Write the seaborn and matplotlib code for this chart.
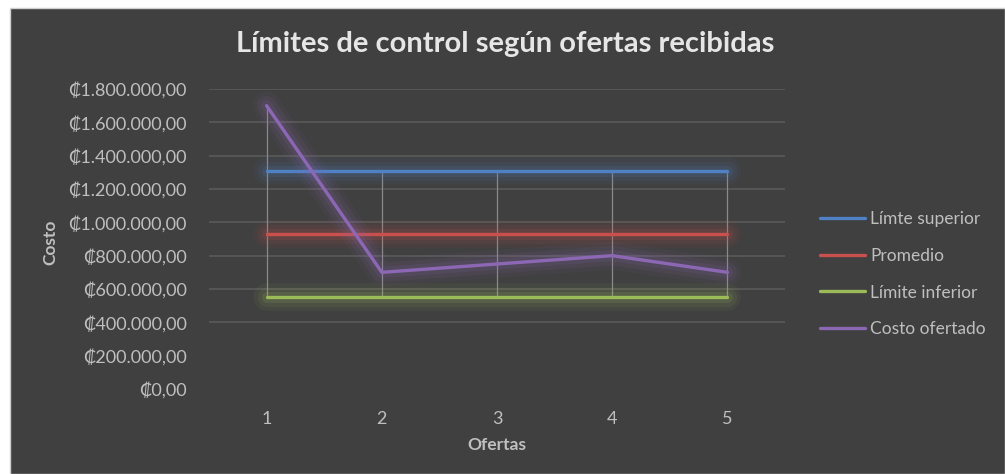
import matplotlib
matplotlib.use("Agg")
import matplotlib.pyplot as plt
import matplotlib.patheffects as pe
from matplotlib.patches import Rectangle
import numpy as np
import pandas as pd
import seaborn as sns

# ── Data ──────────────────────────────────────────────────────────────────────
ofertas = [1, 2, 3, 4, 5]
limite_superior = [1310000, 1310000, 1310000, 1310000, 1310000]
promedio = [930000, 930000, 930000, 930000, 930000]
limite_inferior = [550000, 550000, 550000, 550000, 550000]
costo_ofertado = [1700000, 700000, 750000, 800000, 700000]

series_names = ["Límte superior", "Promedio", "Límite inferior", "Costo ofertado"]
series_colors = ["#4f81c4", "#c9504d", "#9bbb59", "#8c68b4"]
y_ticks = [0, 200000, 400000, 600000, 800000, 1000000, 1200000, 1400000, 1600000, 1800000]

BG = "#404040"
TXT = "#bfbfbf"
GRID = "#5a5a5a"

df = pd.DataFrame({
    "Ofertas": ofertas * 4,
    "Costo": limite_superior + promedio + limite_inferior + costo_ofertado,
    "Serie": [s for s in series_names for _ in ofertas],
})

sns.set_style("dark")
plt.rcParams["font.family"] = ["Lato", "DejaVu Sans"]

fig = plt.figure(figsize=(10.05, 4.74), dpi=100, facecolor="white")
# dark chart area with thin border, inset from top/left like the screenshot
fig.patches.append(Rectangle((10 / 1005, 0), 1 - 10 / 1005, 1 - 8 / 474,
                             transform=fig.transFigure, facecolor=BG,
                             edgecolor="#d0d0d0", linewidth=1, zorder=-5))

ax = fig.add_axes([209 / 1005, 1 - 389 / 474, (785 - 209) / 1005, (389 - 89) / 474])
ax.set_facecolor(BG)

# high-low lines between series at each category
wide = df.pivot(index="Ofertas", columns="Serie", values="Costo")
ax.vlines(wide.index, wide.min(axis=1), wide.max(axis=1), color="#8a8a8a",
          linewidth=0.9, zorder=1)

sns.lineplot(data=df, x="Ofertas", y="Costo", hue="Serie", hue_order=series_names,
             palette=series_colors, linewidth=2.4, ax=ax, legend=True, zorder=3)

# soft glow around each line
for line, color in zip(ax.lines, series_colors):
    line.set_solid_capstyle("round")
    line.set_path_effects([
        pe.Stroke(linewidth=20, foreground=color, alpha=0.06),
        pe.Stroke(linewidth=14, foreground=color, alpha=0.09),
        pe.Stroke(linewidth=8, foreground=color, alpha=0.14),
        pe.Normal(),
    ])

ax.set_xlim(0.5, 5.5)
ax.set_ylim(0, 1800000)
ax.set_xticks(ofertas)
ax.set_yticks(y_ticks)
ax.set_yticklabels(["₡" + f"{v:,.2f}".replace(",", "X").replace(".", ",").replace("X", ".")
                    for v in y_ticks])
ax.tick_params(axis="both", colors=TXT, labelsize=13, length=0)
ax.tick_params(axis="y", pad=16)
ax.tick_params(axis="x", pad=16)

ax.grid(False)
for v in y_ticks:
    if v >= 400000:
        ax.axhline(v, color=GRID, linewidth=1.2, zorder=0.5)
for s in ax.spines.values():
    s.set_visible(False)

ax.set_xlabel("Ofertas", color=TXT, fontsize=12.5, fontweight="bold", labelpad=7)
ax.set_ylabel("Costo", color=TXT, fontsize=12.5, fontweight="bold")
ax.yaxis.set_label_coords(-0.262, 0.49)

fig.text(0.503, 1 - 44 / 474, "Límites de control según ofertas recibidas",
         ha="center", va="center", color="#e6e6e6", fontsize=21, fontweight="bold")

leg = ax.legend(loc="center left", bbox_to_anchor=(1.061, 0.383), frameon=False,
                fontsize=12.5, labelcolor=TXT, handlelength=2.6, handletextpad=0.3,
                labelspacing=1.2, borderpad=0, borderaxespad=0, title=None)
for h, color in zip(leg.get_lines(), series_colors):
    h.set_linewidth(2.4)
    h.set_color(color)
    h.set_path_effects([])

fig.savefig("out.png", dpi=100, facecolor=fig.get_facecolor())
